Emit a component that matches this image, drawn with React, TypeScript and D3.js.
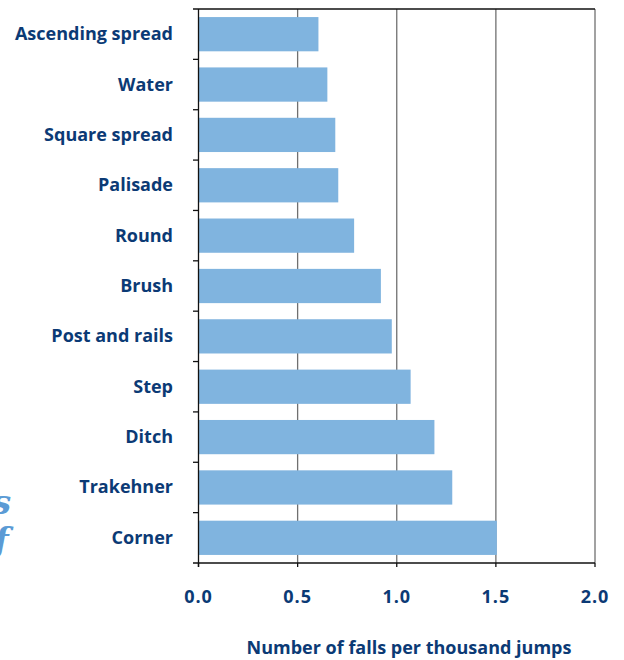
import React from "react";
import * as d3 from "d3";

const categories = ["Ascending spread", "Water", "Square spread", "Palisade", "Round", "Brush", "Post and rails", "Step", "Ditch", "Trakehner", "Corner"];
const values = [0.605, 0.65, 0.69, 0.705, 0.785, 0.92, 0.975, 1.07, 1.19, 1.28, 1.505];
const xTicks = [0, 0.5, 1.0, 1.5, 2.0];
const xTitle = "Number of falls per thousand jumps";

const W = 624, H = 660;
const left = 198.5, right = 595, top = 9, bottom = 563;
const navy = "#0b3a75";
const font = "'Open Sans', sans-serif";

export default function App() {
  const x = d3.scaleLinear().domain([0, 2]).range([left, right]);
  const y = d3.scaleBand().domain(categories).range([top, bottom]).paddingInner(0.32).paddingOuter(0.16);
  const step = y.step();
  return (
    <svg width={W} height={H} style={{ position: "absolute", left: 0, top: 0 }}>
      <rect width={W} height={H} fill="#fff" />
      {xTicks.slice(1).map((t) => (
        <line key={"g" + t} x1={x(t)} x2={x(t)} y1={top} y2={bottom} stroke="#707070" strokeWidth={1.3} />
      ))}
      {categories.map((c, i) => (
        <rect key={c} x={x(0)} y={y(c)!} width={x(values[i]) - x(0)} height={y.bandwidth()} fill="#80b4df" />
      ))}
      <line x1={193} x2={right} y1={top} y2={top} stroke="#111" strokeWidth={1.3} />
      <line x1={193} x2={right} y1={bottom} y2={bottom} stroke="#111" strokeWidth={1.3} />
      <line x1={left} x2={left} y1={top} y2={bottom + 4} stroke="#111" strokeWidth={1.3} />
      {categories.slice(1).map((c, i) => (
        <line key={"lt" + c} x1={193} x2={left} y1={top + step * (i + 1)} y2={top + step * (i + 1)} stroke="#111" strokeWidth={1.3} />
      ))}
      {xTicks.map((t) => (
        <g key={"t" + t}>
          <line x1={x(t)} x2={x(t)} y1={bottom} y2={bottom + 4} stroke="#111" strokeWidth={1.3} />
          <text x={x(t)} y={603} textAnchor="middle" fontFamily={font} fontWeight={700} fontSize={18} letterSpacing={1} fill={navy}>
            {t.toFixed(1)}
          </text>
        </g>
      ))}
      {categories.map((c) => (
        <text key={"l" + c} x={173} y={y(c)! + y.bandwidth() / 2 + 6} textAnchor="end" fontFamily={font} fontWeight={700} fontSize={18} fill={navy}>
          {c}
        </text>
      ))}
      <text x={409} y={654} textAnchor="middle" fontFamily={font} fontWeight={700} fontSize={18} fill={navy}>
        {xTitle}
      </text>
      <text x={-8} y={514} fontFamily="'DejaVu Serif', serif" fontStyle="italic" fontWeight={700} fontSize={34} fill="#5b9bd5">s</text>
      <text x={-6} y={552} fontFamily="'DejaVu Serif', serif" fontStyle="italic" fontWeight={700} fontSize={34} fill="#5b9bd5">f</text>
    </svg>
  );
}
